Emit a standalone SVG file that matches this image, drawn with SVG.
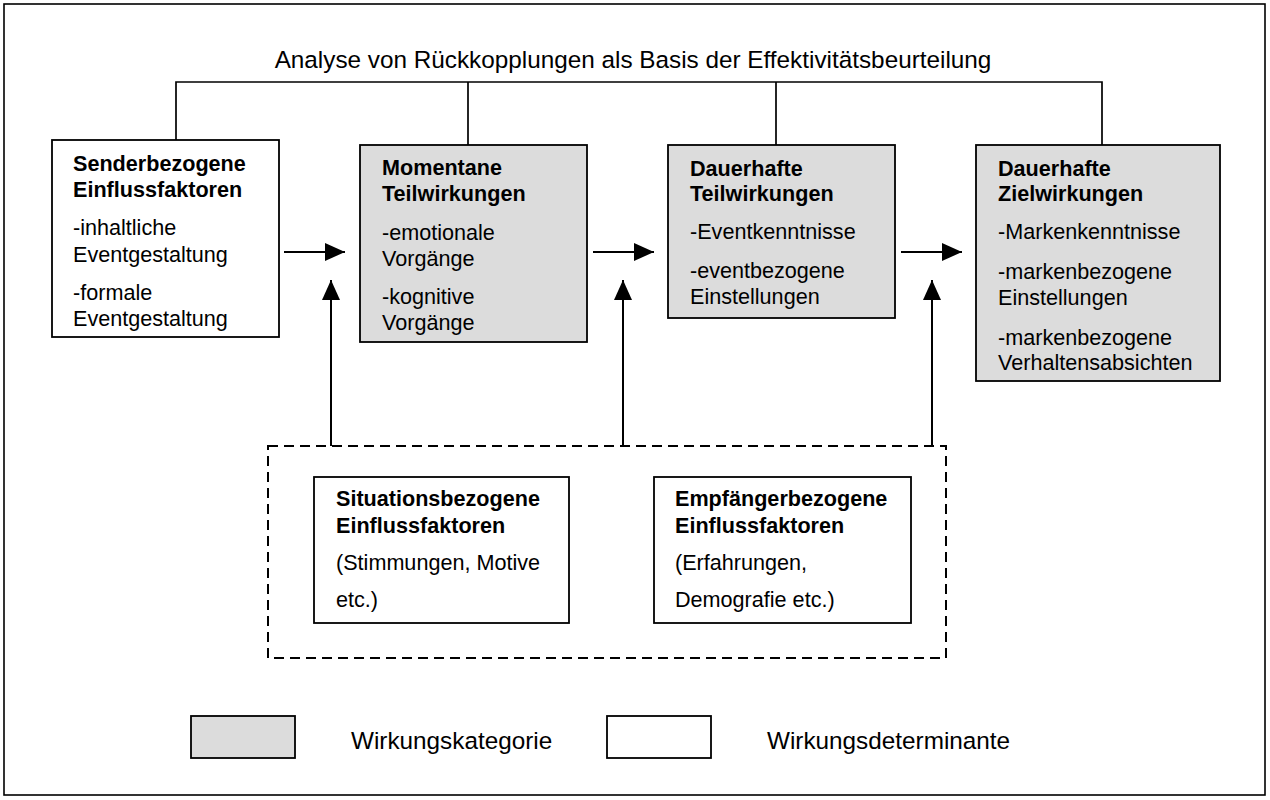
<svg xmlns="http://www.w3.org/2000/svg" width="1270" height="800" viewBox="0 0 1270 800">
  <style>
    text { font-family: "Liberation Sans", Arial, sans-serif; font-size: 21.6px; fill: #000; }
    .h { font-weight: bold; }
    .title { font-size: 24.3px; }
    .leg { font-size: 24.3px; }
    .box { stroke: #000; stroke-width: 1.8; }
    .cat { fill: #dcdcdc; }
    .det { fill: #fff; }
    .line { fill: none; stroke: #000; stroke-width: 1.7; }
    .arrow { fill: none; stroke: #000; stroke-width: 2; marker-end: url(#head); }
    .dash { fill: none; stroke: #000; stroke-width: 2; stroke-dasharray: 10 6; }
  </style>
  <defs>
    <marker id="head" markerWidth="20" markerHeight="18" refX="20" refY="9" orient="auto" markerUnits="userSpaceOnUse">
      <path d="M0,0 L20,9 L0,18 Z" fill="#000"/>
    </marker>
  </defs>

  <!-- outer frame -->
  <rect x="4" y="4" width="1261" height="791" fill="#fff" stroke="#000" stroke-width="1.6"/>

  <!-- feedback analysis heading -->
  <text class="title" x="633" y="68" text-anchor="middle">Analyse von Rückkopplungen als Basis der Effektivitätsbeurteilung</text>

  <!-- connectors -->
  <g id="connectors">
    <path class="line" d="M176,140 V82 H1102 V145 M468,82 V145 M776,82 V145"/>
    <line class="arrow" x1="284" y1="252" x2="345" y2="252"/>
    <line class="arrow" x1="593" y1="252" x2="654" y2="252"/>
    <line class="arrow" x1="901" y1="252" x2="962" y2="252"/>
    <line class="arrow" x1="331" y1="446" x2="331" y2="280"/>
    <line class="arrow" x1="623" y1="446" x2="623" y2="280"/>
    <line class="arrow" x1="932" y1="446" x2="932" y2="280"/>
  </g>

  <g id="sender">
    <rect class="box det" x="52" y="140" width="227" height="197"/>
    <text class="h" x="73" y="171">Senderbezogene</text>
    <text class="h" x="73" y="197">Einflussfaktoren</text>
    <text x="73" y="235">-inhaltliche</text>
    <text x="73" y="262">Eventgestaltung</text>
    <text x="73" y="300">-formale</text>
    <text x="73" y="326">Eventgestaltung</text>
  </g>

  <g id="momentane">
    <rect class="box cat" x="360" y="145" width="227" height="197"/>
    <text class="h" x="382" y="175">Momentane</text>
    <text class="h" x="382" y="201">Teilwirkungen</text>
    <text x="382" y="240">-emotionale</text>
    <text x="382" y="266">Vorgänge</text>
    <text x="382" y="304">-kognitive</text>
    <text x="382" y="330">Vorgänge</text>
  </g>

  <g id="dauer-teil">
    <rect class="box cat" x="668" y="145" width="227" height="173"/>
    <text class="h" x="690" y="176">Dauerhafte</text>
    <text class="h" x="690" y="201">Teilwirkungen</text>
    <text x="690" y="239">-Eventkenntnisse</text>
    <text x="690" y="278">-eventbezogene</text>
    <text x="690" y="304">Einstellungen</text>
  </g>

  <g id="dauer-ziel">
    <rect class="box cat" x="976" y="145" width="244" height="236"/>
    <text class="h" x="998" y="176">Dauerhafte</text>
    <text class="h" x="998" y="201">Zielwirkungen</text>
    <text x="998" y="239">-Markenkenntnisse</text>
    <text x="998" y="279">-markenbezogene</text>
    <text x="998" y="305">Einstellungen</text>
    <text x="998" y="345">-markenbezogene</text>
    <text x="998" y="370">Verhaltensabsichten</text>
  </g>

  <g id="moderators">
    <rect class="dash" x="268" y="446" width="678" height="212"/>
  </g>

  <g id="situation">
    <rect class="box det" x="314" y="477" width="255" height="146"/>
    <text class="h" x="336" y="506">Situationsbezogene</text>
    <text class="h" x="336" y="533">Einflussfaktoren</text>
    <text x="336" y="570">(Stimmungen, Motive</text>
    <text x="336" y="607">etc.)</text>
  </g>

  <g id="empfaenger">
    <rect class="box det" x="654" y="477" width="257" height="146"/>
    <text class="h" x="675" y="506">Empfängerbezogene</text>
    <text class="h" x="675" y="533">Einflussfaktoren</text>
    <text x="675" y="570">(Erfahrungen,</text>
    <text x="675" y="607">Demografie etc.)</text>
  </g>

  <g id="legend">
    <rect class="box cat" x="191" y="716" width="104" height="42"/>
    <text class="leg" x="351" y="749">Wirkungskategorie</text>
    <rect class="box det" x="607" y="716" width="104" height="42"/>
    <text class="leg" x="767" y="749">Wirkungsdeterminante</text>
  </g>
</svg>
